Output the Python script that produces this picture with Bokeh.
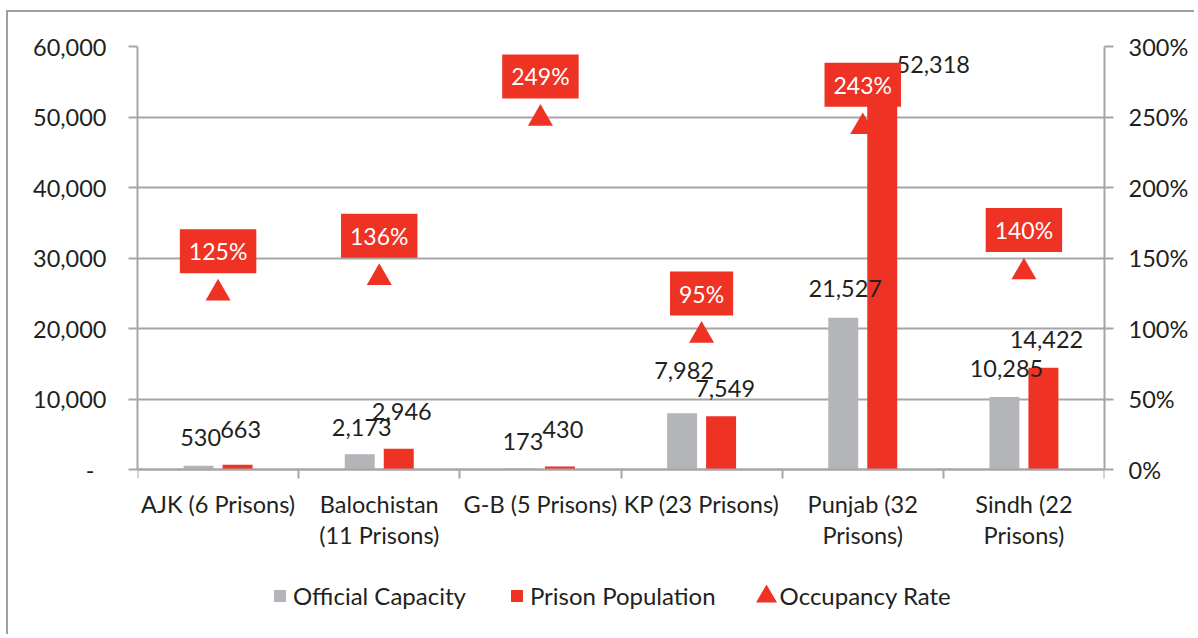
from bokeh.plotting import figure
from bokeh.models import (Range1d, LinearAxis, FixedTicker, NumeralTickFormatter,
                          PrintfTickFormatter, Legend, LegendItem, ColumnDataSource)
from bokeh.core.properties import value
from bokeh.embed import file_html
from bokeh.resources import INLINE

# ---- data ----
categories = ["AJK (6 Prisons)", "Balochistan\n(11 Prisons)", "G-B (5 Prisons)",
              "KP (23 Prisons)", "Punjab (32\nPrisons)", "Sindh (22\nPrisons)"]
capacity = [530, 2173, 173, 7982, 21527, 10285]
population = [663, 2946, 430, 7549, 52318, 14422]
occupancy = [125, 136, 249, 95, 243, 140]
left_ticks = [0, 10000, 20000, 30000, 40000, 50000, 60000]
right_ticks = [0, 50, 100, 150, 200, 250, 300]
series_names = ["Official Capacity", "Prison Population", "Occupancy Rate"]

# ---- label placement tweaks (pixels) ----
cap_lift = [28, 27, 27, 43, 29, 28]
pop_lift = [35, 37, 37, 28, 36, 28]
pop_shift = [3, 3, 3, 4, 51, 3]

FONT = "Lato"
FS = "23.5px"
RED = "#ee3224"
GRAY = "#b4b5b8"
GRID = "#a6a6a9"
TXT = "#231f20"

# ---- layout (page pixels) ----
W, H = 1188, 624
ORIGIN_X, ORIGIN_Y = 8, 12
FRAME_L, FRAME_R, FRAME_T, ZERO_Y, FRAME_B = 137, 1104, 46, 469, 622
LEG_X, LEG_Y, LEG_TRI_X = 272, 596, 766
LMAX, RMAX = 60000, 300
below = (FRAME_B - ZERO_Y) / (ZERO_Y - FRAME_T)

n = len(categories)
centers = [i + 0.5 for i in range(n)]
off = 0.121
bw = 0.186

p = figure(width=W, height=H, x_range=Range1d(0, n),
           y_range=Range1d(-below * LMAX, LMAX),
           output_backend="svg", toolbar_location=None,
           min_border_left=FRAME_L - ORIGIN_X, min_border_right=W - (FRAME_R - ORIGIN_X),
           min_border_top=FRAME_T - ORIGIN_Y, min_border_bottom=H - (FRAME_B - ORIGIN_Y))
p.styles = {"margin-top": "10px", "margin-left": "6px",
            "border-left": "2px solid #a0a0a3", "border-top": "2px solid #a0a0a3"}
p.outline_line_color = None
p.xgrid.visible = False
p.ygrid.grid_line_color = GRID
p.ygrid.grid_line_width = 2
p.extra_y_ranges = {"pct": Range1d(-below * RMAX, RMAX),
                    "py": Range1d(FRAME_B, FRAME_T)}
p.extra_x_ranges = {"px": Range1d(FRAME_L, FRAME_R)}

# left axis
ya = p.yaxis[0]
ya.ticker = FixedTicker(ticks=left_ticks, minor_ticks=[])
ya.formatter = NumeralTickFormatter(format="0,0")
ya.major_label_overrides = {0: "-\u00a0\u00a0"}
ya.bounds = (0, LMAX)

# right axis
ra = LinearAxis(y_range_name="pct", ticker=FixedTicker(ticks=right_ticks, minor_ticks=[]),
                formatter=PrintfTickFormatter(format="%d%%"), bounds=(0, RMAX))
p.add_layout(ra, "right")

for ax in (ya, ra):
    ax.axis_line_color = GRID
    ax.axis_line_width = 2
    ax.major_tick_line_color = GRID
    ax.major_tick_line_width = 2
    ax.major_tick_in = 0
    ax.major_tick_out = 9
    ax.minor_tick_line_color = None
    ax.major_label_text_font = FONT
    ax.major_label_text_font_size = FS
    ax.major_label_text_color = TXT
ya.major_label_standoff = 22
ra.major_label_standoff = 15

# x axis: line at zero with boundary ticks
xa = p.xaxis[0]
xa.fixed_location = 0
xa.ticker = FixedTicker(ticks=centers, minor_ticks=list(range(n + 1)))
xa.major_label_overrides = {c: "" for c in centers}
xa.major_label_text_font_size = "0px"
xa.major_label_standoff = 0
xa.axis_line_color = GRID
xa.axis_line_width = 2
xa.major_tick_line_color = None
xa.major_tick_in = 0
xa.major_tick_out = 0
xa.minor_tick_line_color = GRID
xa.minor_tick_line_width = 2
xa.minor_tick_in = 0
xa.minor_tick_out = 9

src = ColumnDataSource(dict(
    xc=[c - off for c in centers], xp=[c + off for c in centers], xm=centers,
    zero=[0] * n, cat=categories,
    cap=capacity, pop=population, occ=occupancy,
    cap_lab=[f"{v:,}" for v in capacity], pop_lab=[f"{v:,}" for v in population],
    occ_lab=[f"{v}%" for v in occupancy],
    cap_dy=[-d for d in cap_lift], pop_dy=[-d for d in pop_lift], pop_dx=pop_shift,
))

tri = p.scatter("xm", "occ", source=src, y_range_name="pct", marker="triangle",
                size=25, fill_color=RED, line_color=None)
gb = p.vbar(x="xc", top="cap", width=bw, source=src, fill_color=GRAY, line_color=None)
rb = p.vbar(x="xp", top="pop", width=bw, source=src, fill_color=RED, line_color=None)

# category labels
p.text(x="xm", y="zero", text="cat", source=src, y_offset=20,
       text_align="center", text_baseline="top", text_font=value(FONT),
       text_font_size=FS, text_color=TXT, text_line_height=1.12)

p.text(x="xc", y="cap", text="cap_lab", source=src, y_offset="cap_dy", x_offset=2,
       text_align="center", text_baseline="middle", text_font=value(FONT),
       text_font_size=FS, text_color=TXT)
p.text(x="xp", y="pop", text="pop_lab", source=src, y_offset="pop_dy", x_offset="pop_dx",
       text_align="center", text_baseline="middle", text_font=value(FONT),
       text_font_size=FS, text_color=TXT)
p.text(x="xm", y="occ", text="occ_lab", source=src, y_range_name="pct", y_offset=-42,
       text_align="center", text_baseline="middle", text_font=value(FONT),
       text_font_size="23px", text_color="white",
       background_fill_color=RED, padding=dict(left=9, right=9, top=8, bottom=8))

# legend: glyph for the triangle entry drawn larger on top of the legend slot
tri_leg = p.scatter(x=[LEG_TRI_X], y=[LEG_Y], x_range_name="px", y_range_name="py",
                    marker="triangle", size=21, fill_color=RED, line_color=None)
tri_slot = p.scatter(x=[], y=[], marker="triangle", fill_alpha=0, line_alpha=0)
legend = Legend(items=[LegendItem(label=series_names[0], renderers=[gb]),
                       LegendItem(label=series_names[1], renderers=[rb]),
                       LegendItem(label=series_names[2], renderers=[tri_slot])],
                orientation="horizontal",
                location=(LEG_X - FRAME_L, FRAME_B - LEG_Y - 14),
                label_text_font=FONT, label_text_font_size="24px", label_text_color=TXT,
                glyph_width=15, glyph_height=15, label_standoff=6, spacing=43,
                padding=0, margin=0, border_line_color=None, background_fill_alpha=0)
p.add_layout(legend, "center")

open("out.html", "w").write(file_html(p, INLINE))
